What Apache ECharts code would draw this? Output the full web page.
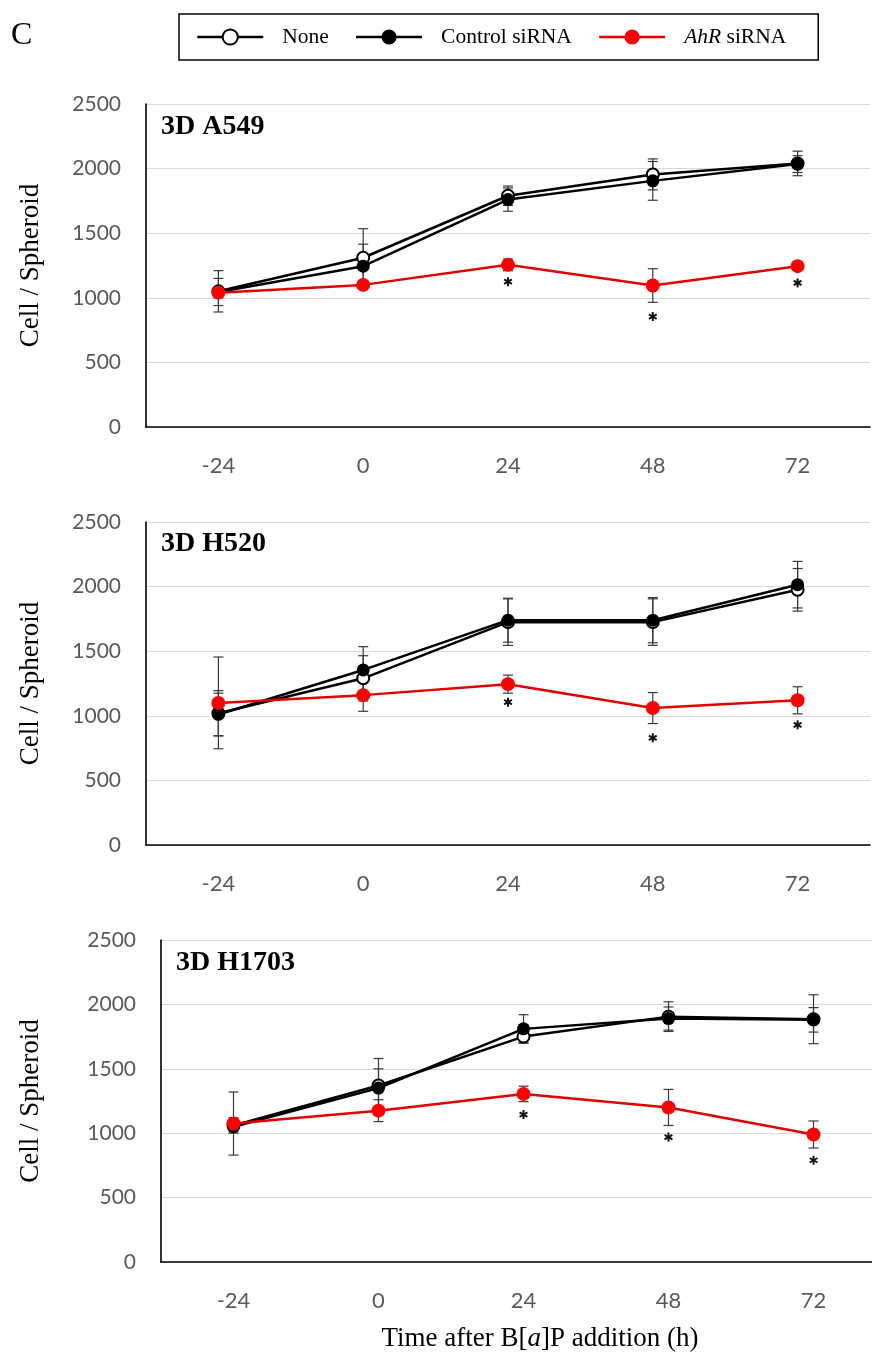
<!DOCTYPE html>
<html>
<head>
<meta charset="utf-8">
<script src="https://cdn.jsdelivr.net/npm/echarts@6/dist/echarts.min.js"></script>
<style>
html,body{margin:0;padding:0;background:#fff;}
#chart{width:872px;height:1358px;}
</style>
</head>
<body>
<div id="chart"></div>
<script>
// ---- data ----
const categories = ['-24', '0', '24', '48', '72'];
const seriesNames = ['None', 'Control siRNA', 'AhR siRNA'];
const panelTitles = ['3D A549', '3D H520', '3D H1703'];

const noneA549 = [1050, 1310, 1790, 1955, 2040];
const ctrlA549 = [1045, 1245, 1760, 1905, 2035];
const ahrA549  = [1040, 1100, 1255, 1095, 1245];
const noneA549Err = [160, 225, 75, 120, 95];
const ctrlA549Err = [105, 170, 90, 150, 65];
const ahrA549Err  = [40, 30, 45, 130, 30];
const starA549 = [null, null, 1125, 855, 1115];

const noneH520 = [1020, 1290, 1725, 1725, 1975];
const ctrlH520 = [1010, 1355, 1740, 1740, 2015];
const ahrH520  = [1100, 1160, 1245, 1060, 1120];
const noneH520Err = [175, 175, 180, 180, 165];
const ctrlH520Err = [165, 180, 170, 175, 180];
const ahrH520Err  = [355, 125, 70, 120, 105];
const starH520 = [null, null, 1105, 830, 930];

const noneH1703 = [1060, 1370, 1750, 1905, 1885];
const ctrlH1703 = [1050, 1350, 1810, 1890, 1880];
const ahrH1703  = [1075, 1175, 1305, 1200, 990];
const noneH1703Err = [60, 210, 50, 115, 190];
const ctrlH1703Err = [40, 150, 110, 90, 95];
const ahrH1703Err  = [245, 85, 60, 140, 105];
const starH1703 = [null, null, 1145, 970, 790];

const yMin = 0, yMax = 2500, yInterval = 500;

const panels = [
  {none: noneA549, ctrl: ctrlA549, ahr: ahrA549, noneErr: noneA549Err, ctrlErr: ctrlA549Err, ahrErr: ahrA549Err, star: starA549},
  {none: noneH520, ctrl: ctrlH520, ahr: ahrH520, noneErr: noneH520Err, ctrlErr: ctrlH520Err, ahrErr: ahrH520Err, star: starH520},
  {none: noneH1703, ctrl: ctrlH1703, ahr: ahrH1703, noneErr: noneH1703Err, ctrlErr: ctrlH1703Err, ahrErr: ahrH1703Err, star: starH1703}
];

// ---- layout ----
const grids = [
  {left: 146, top: 104, width: 724, height: 323, outerBoundsMode: 'none', containLabel: false},
  {left: 146, top: 522, width: 724, height: 323, outerBoundsMode: 'none', containLabel: false},
  {left: 161, top: 940, width: 725, height: 322, outerBoundsMode: 'none', containLabel: false}
];

const SERIF = '"Liberation Serif", "Times New Roman", serif';
const SANS = 'Lato, "Open Sans", sans-serif';
const RED = '#ff0000';
const REDLINE = '#e00000';

function errSeries(gi, vals, errs) {
  return {
    type: 'custom', xAxisIndex: gi, yAxisIndex: gi, z: 1, silent: true,
    data: vals.map((v, i) => [i, v, errs[i]]),
    renderItem: function (params, api) {
      const x = api.value(0), v = api.value(1), e = api.value(2);
      const t = api.coord([x, v + e]), b = api.coord([x, v - e]);
      const hw = 5, st = {stroke: '#3a3a3a', lineWidth: 1.2};
      return {type: 'group', children: [
        {type: 'line', shape: {x1: t[0], y1: t[1], x2: b[0], y2: b[1]}, style: st},
        {type: 'line', shape: {x1: t[0] - hw, y1: t[1], x2: t[0] + hw, y2: t[1]}, style: st},
        {type: 'line', shape: {x1: b[0] - hw, y1: b[1], x2: b[0] + hw, y2: b[1]}, style: st}
      ]};
    }
  };
}

function starSeries(gi, stars) {
  const d = [];
  stars.forEach((v, i) => { if (v !== null) d.push([i, v]); });
  return {
    type: 'custom', xAxisIndex: gi, yAxisIndex: gi, z: 5, silent: true,
    data: d,
    renderItem: function (params, api) {
      const c = api.coord([api.value(0), api.value(1)]);
      const r = 4.5, st = {stroke: '#111', lineWidth: 2};
      const ch = [];
      for (let k = 0; k < 3; k++) {
        const a = Math.PI / 2 + k * Math.PI / 3;
        ch.push({type: 'line', shape: {x1: c[0] - r * Math.cos(a), y1: c[1] - r * Math.sin(a), x2: c[0] + r * Math.cos(a), y2: c[1] + r * Math.sin(a)}, style: st});
      }
      return {type: 'group', children: ch};
    }
  };
}

const xAxes = [], yAxes = [], series = [], graphics = [];

panels.forEach((p, gi) => {
  xAxes.push({
    type: 'category', gridIndex: gi, data: categories, boundaryGap: true,
    axisTick: {show: false},
    axisLine: {show: true, lineStyle: {color: '#000', width: 1.6}},
    axisLabel: {color: '#595959', fontFamily: SANS, fontSize: 22, margin: 28}
  });
  yAxes.push({
    type: 'value', gridIndex: gi, min: yMin, max: yMax, interval: yInterval,
    axisTick: {show: false},
    axisLine: {show: true, lineStyle: {color: '#000', width: 1.6}},
    axisLabel: {color: '#595959', fontFamily: SANS, fontSize: 21, margin: 25,
                formatter: function (v) { return String(v); }},
    splitLine: {lineStyle: {color: '#d9d9d9', width: 1.2}},
    name: 'Cell / Spheroid', nameLocation: 'middle', nameRotate: 90, nameGap: gi === 2 ? 117 : 102,
    nameTextStyle: {fontFamily: SERIF, fontSize: 27, color: '#000'}
  });
  series.push(errSeries(gi, p.none, p.noneErr));
  series.push(errSeries(gi, p.ctrl, p.ctrlErr));
  series.push(errSeries(gi, p.ahr, p.ahrErr));
  series.push({
    name: 'None', type: 'line', xAxisIndex: gi, yAxisIndex: gi, data: p.none,
    symbol: 'emptyCircle', symbolSize: 12, z: 3,
    lineStyle: {color: '#000', width: 2.5},
    itemStyle: {color: '#000', borderColor: '#000', borderWidth: 1.8}
  });
  series.push({
    name: 'Control siRNA', type: 'line', xAxisIndex: gi, yAxisIndex: gi, data: p.ctrl,
    symbol: 'circle', symbolSize: 13, z: 4,
    lineStyle: {color: '#000', width: 2.5},
    itemStyle: {color: '#000'}
  });
  series.push({
    name: 'AhR siRNA', type: 'line', xAxisIndex: gi, yAxisIndex: gi, data: p.ahr,
    symbol: 'circle', symbolSize: 14, z: 4,
    lineStyle: {color: REDLINE, width: 2.5},
    itemStyle: {color: RED}
  });
  series.push(starSeries(gi, p.star));
  graphics.push({
    type: 'text', left: grids[gi].left + 15, top: [113, 530, 949][gi],
    style: {text: panelTitles[gi], font: 'bold 28px ' + SERIF, fill: '#000'}
  });
});

graphics.push({
  type: 'text', left: 11, top: 20,
  style: {text: 'C', font: '32px ' + SERIF, fill: '#000'}
});
graphics.push({
  type: 'text', x: 540, y: 1339,
  style: {
    text: '{n|Time after B[}{i|a}{n|]P addition (h)}',
    textAlign: 'center', textVerticalAlign: 'middle',
    rich: {
      n: {fontFamily: SERIF, fontSize: 27, fill: '#000', color: '#000'},
      i: {fontFamily: SERIF, fontSize: 27, fontStyle: 'italic', fill: '#000', color: '#000'}
    }
  }
});

const option = {
  animation: false,
  backgroundColor: '#fff',
  legend: {
    data: seriesNames,
    left: 179, top: 14,
    padding: [12, 32, 12, 17],
    borderColor: '#000', borderWidth: 1.5,
    itemWidth: 66, itemHeight: 19, itemGap: 26,
    lineStyle: {width: 2.5},
    textStyle: {
      fontFamily: SERIF, fontSize: 21.5, color: '#000', padding: [0, 0, 0, 14],
      rich: {i: {fontFamily: SERIF, fontSize: 21.5, fontStyle: 'italic', color: '#000'}}
    },
    formatter: function (name) { return name === 'AhR siRNA' ? '{i|AhR} siRNA' : name; }
  },
  grid: grids,
  xAxis: xAxes,
  yAxis: yAxes,
  series: series,
  graphic: graphics
};

const chart = echarts.init(document.getElementById('chart'), null, {renderer: 'canvas'});
chart.setOption(option);
</script>
</body>
</html>
